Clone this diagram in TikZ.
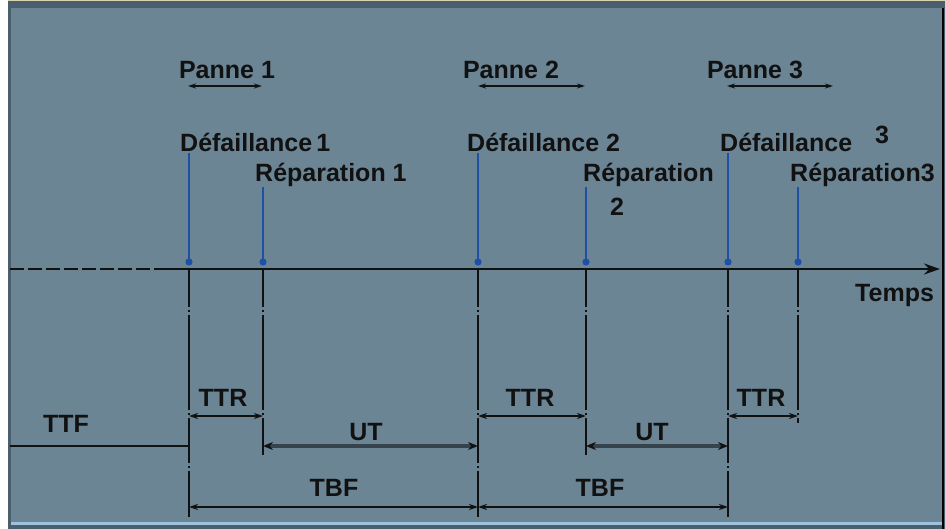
\documentclass[tikz,border=0pt]{standalone}
\usepackage{fontspec}
\setmainfont{Liberation Sans}
\usetikzlibrary{arrows.meta}
\definecolor{panel}{HTML}{6C8595}
\definecolor{frame}{HTML}{4B5E6B}
\definecolor{rim}{HTML}{9CC3DE}
\definecolor{topline}{HTML}{D9D5B4}
\definecolor{evblue}{HTML}{1E50A8}
\definecolor{utgray}{HTML}{36434D}
\definecolor{ink}{HTML}{111111}
\begin{document}
\begin{tikzpicture}[x=1pt,y=-1pt,
  lbl/.style={font=\fontsize{25}{28}\selectfont\bfseries, inner sep=0pt, text=ink},
  evline/.style={evblue, line width=2.2pt},
  guide/.style={ink, line width=2.4pt,
    dash pattern=on 37pt off 3pt on 2pt off 3pt on 95pt off 3pt on 2pt off 3pt on 45pt off 3pt on 2pt off 3pt on 200pt off 1pt},
  dim/.style={ink, line width=1.6pt, {Stealth[length=9pt,width=6pt]}-{Stealth[length=9pt,width=6pt]}},
  dimthick/.style={utgray, line width=3.4pt, {Stealth[length=10pt,width=8pt,color=ink]}-{Stealth[length=10pt,width=8pt,color=ink]}},
  span/.style={ink, line width=1.5pt, {Stealth[length=8pt,width=5pt]}-{Stealth[length=8pt,width=5pt]}}]
\useasboundingbox (0,0) rectangle (945,529);

% frame and panel
\fill[white] (0,0) rectangle (945,529);
\fill[frame] (8,0) rectangle (945,529);
\fill[topline] (8,0) rectangle (945,1.5);
\fill[panel] (11,8) rectangle (942,522);
\fill[rim] (11,522) rectangle (942,525);
\fill[black] (942,8) rectangle (944,529);

% event abscissae
\foreach \n/\x/\top/\bot in {d1/189/153/517, r1/263/187/455, d2/478/153/517,
                             r2/586/187/455, d3/728/153/517, r3/798/187/423} {
  \coordinate (\n top) at (\x,\top);
  \coordinate (\n dot) at (\x,262);
  \coordinate (\n ax) at (\x,270);
  \coordinate (\n bot) at (\x,\bot);
}

% time axis
\coordinate (axstart) at (10,269);
\coordinate (axsolid) at (167,269);
\coordinate (axend) at (940,269);
\draw[ink, line width=2.6pt, dash pattern=on 14pt off 4pt] (axstart) -- (axsolid);
\draw[ink, line width=2.6pt, -{Stealth[length=16pt,width=11pt]}] (axsolid) -- (axend);
\node[lbl, anchor=west] (temps) at (855,295) {Temps};

% blue event markers
\foreach \n in {d1,r1,d2,r2,d3,r3} {
  \draw[evline] (\n top) -- (\n dot);
  \fill[evblue] (\n dot) circle (3.6pt);
}

% vertical guides below the axis
\foreach \n in {d1,r1,d2,r2,d3,r3} {
  \draw[guide] (\n ax) -- (\n bot);
}

% event labels
\node[lbl, anchor=west] (def1) at (180,142) {Défaillance\,1};
\node[lbl, anchor=west] (rep1) at (255,175) {Réparation 1};
\node[lbl, anchor=west] (def2) at (467,142) {Défaillance 2};
\node[lbl, anchor=west] (rep2) at (583,175) {Réparation};
\node[lbl] (rep2n) at (617,207) {2};
\node[lbl, anchor=west] (def3) at (720,142) {Défaillance};
\node[lbl] (def3n) at (882,135) {3};
\node[lbl, anchor=west] (rep3) at (790,175) {Réparation3};

% breakdown spans
\node[lbl] (panne1) at (227,70) {Panne 1};
\node[lbl] (panne2) at (511,70) {Panne 2};
\node[lbl] (panne3) at (755,70) {Panne 3};
\coordinate (p1a) at (188,86); \coordinate (p1b) at (262,86);
\coordinate (p2a) at (478,86); \coordinate (p2b) at (585,86);
\coordinate (p3a) at (727,86); \coordinate (p3b) at (833,86);
\draw[span] (p1a) -- (p1b);
\draw[span] (p2a) -- (p2b);
\draw[span] (p3a) -- (p3b);

% time to failure
\coordinate (ttfstart) at (10,446);
\coordinate (ttfend) at (189,446);
\draw[ink, line width=2.6pt] (ttfstart) -- (ttfend);
\node[lbl] (ttf) at (66,424) {TTF};

% repair times
\coordinate (ttr1a) at (189,416); \coordinate (ttr1b) at (263,416);
\coordinate (ttr2a) at (478,416); \coordinate (ttr2b) at (586,416);
\coordinate (ttr3a) at (728,416); \coordinate (ttr3b) at (798,416);
\draw[dim] (ttr1a) -- (ttr1b);
\draw[dim] (ttr2a) -- (ttr2b);
\draw[dim] (ttr3a) -- (ttr3b);
\node[lbl] (ttr1) at (223,398) {TTR};
\node[lbl] (ttr2) at (530,398) {TTR};
\node[lbl] (ttr3) at (761,398) {TTR};

% up times
\coordinate (ut1a) at (263,446); \coordinate (ut1b) at (478,446);
\coordinate (ut2a) at (586,446); \coordinate (ut2b) at (728,446);
\draw[dimthick] (ut1a) -- (ut1b);
\draw[dimthick] (ut2a) -- (ut2b);
\node[lbl] (ut1) at (366,432) {UT};
\node[lbl] (ut2) at (652,432) {UT};

% times between failures
\coordinate (tbf1a) at (189,507); \coordinate (tbf1b) at (478,507);
\coordinate (tbf2a) at (478,507); \coordinate (tbf2b) at (728,507);
\draw[dim] (tbf1a) -- (tbf1b);
\draw[dim] (tbf2a) -- (tbf2b);
\node[lbl] (tbf1) at (334,488) {TBF};
\node[lbl] (tbf2) at (600,488) {TBF};
\end{tikzpicture}
\end{document}
